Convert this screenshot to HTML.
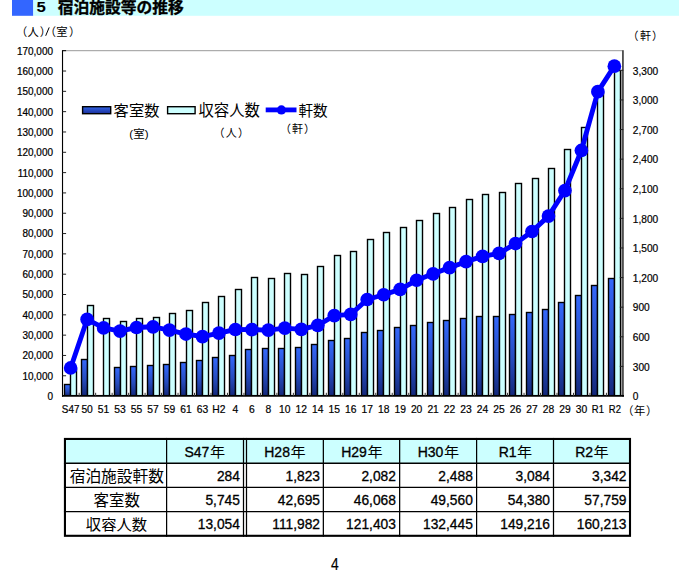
<!DOCTYPE html><html><head><meta charset="utf-8"><style>html,body{margin:0;padding:0;background:#fff}body{width:697px;height:573px;overflow:hidden;font-family:"Liberation Sans",sans-serif}</style></head><body><svg width="697" height="573" viewBox="0 0 697 573" font-family="Liberation Sans, sans-serif" style="display:block"><rect x="12.00" y="0.00" width="21.30" height="15.80" fill="#3366ff" /><rect x="33.30" y="0.00" width="645.70" height="15.80" fill="#ccffff" /><text transform="translate(36.48,12.01) scale(1.2,1)" font-size="14.0" font-weight="bold" fill="#000" font-family="'Liberation Sans', 'Noto Sans CJK JP', sans-serif">5</text><text x="57.78" y="12.73" font-size="15.75" font-weight="bold" fill="#000" stroke="#000" stroke-width="0.35" font-family="'Liberation Sans', 'Noto Sans CJK JP', sans-serif">宿泊施設等の推移</text><defs><linearGradient id="bg" x1="0" y1="0" x2="0" y2="1"><stop offset="0" stop-color="#3468fb"/><stop offset="0.55" stop-color="#264bbd"/><stop offset="1" stop-color="#14287a"/></linearGradient><linearGradient id="lg" x1="0" y1="0" x2="0" y2="1"><stop offset="0" stop-color="#3366e8"/><stop offset="1" stop-color="#1a2f9a"/></linearGradient></defs><line x1="62.40" y1="50.70" x2="622.60" y2="50.70" stroke="#999" stroke-width="1" /><rect x="63.80" y="383.80" width="7.40" height="12.20" fill="#000" /><rect x="65.20" y="385.20" width="4.60" height="10.80" fill="url(#bg)" /><rect x="69.80" y="368.80" width="7.40" height="27.20" fill="#000" /><rect x="71.20" y="370.20" width="4.60" height="25.80" fill="#ccffff" /><rect x="80.80" y="358.80" width="7.40" height="37.20" fill="#000" /><rect x="82.20" y="360.20" width="4.60" height="35.80" fill="url(#bg)" /><rect x="86.80" y="304.80" width="7.40" height="91.20" fill="#000" /><rect x="88.20" y="306.20" width="4.60" height="89.80" fill="#ccffff" /><rect x="102.80" y="317.80" width="7.40" height="78.20" fill="#000" /><rect x="104.20" y="319.20" width="4.60" height="76.80" fill="#ccffff" /><rect x="113.80" y="366.80" width="7.40" height="29.20" fill="#000" /><rect x="115.20" y="368.20" width="4.60" height="27.80" fill="url(#bg)" /><rect x="119.80" y="320.80" width="7.40" height="75.20" fill="#000" /><rect x="121.20" y="322.20" width="4.60" height="73.80" fill="#ccffff" /><rect x="129.80" y="365.80" width="7.40" height="30.20" fill="#000" /><rect x="131.20" y="367.20" width="4.60" height="28.80" fill="url(#bg)" /><rect x="135.80" y="317.80" width="7.40" height="78.20" fill="#000" /><rect x="137.20" y="319.20" width="4.60" height="76.80" fill="#ccffff" /><rect x="146.80" y="364.80" width="7.40" height="31.20" fill="#000" /><rect x="148.20" y="366.20" width="4.60" height="29.80" fill="url(#bg)" /><rect x="152.80" y="316.80" width="7.40" height="79.20" fill="#000" /><rect x="154.20" y="318.20" width="4.60" height="77.80" fill="#ccffff" /><rect x="162.80" y="363.80" width="7.40" height="32.20" fill="#000" /><rect x="164.20" y="365.20" width="4.60" height="30.80" fill="url(#bg)" /><rect x="168.80" y="312.80" width="7.40" height="83.20" fill="#000" /><rect x="170.20" y="314.20" width="4.60" height="81.80" fill="#ccffff" /><rect x="179.80" y="361.80" width="7.40" height="34.20" fill="#000" /><rect x="181.20" y="363.20" width="4.60" height="32.80" fill="url(#bg)" /><rect x="185.80" y="309.80" width="7.40" height="86.20" fill="#000" /><rect x="187.20" y="311.20" width="4.60" height="84.80" fill="#ccffff" /><rect x="195.80" y="359.80" width="7.40" height="36.20" fill="#000" /><rect x="197.20" y="361.20" width="4.60" height="34.80" fill="url(#bg)" /><rect x="201.80" y="301.80" width="7.40" height="94.20" fill="#000" /><rect x="203.20" y="303.20" width="4.60" height="92.80" fill="#ccffff" /><rect x="211.80" y="356.80" width="7.40" height="39.20" fill="#000" /><rect x="213.20" y="358.20" width="4.60" height="37.80" fill="url(#bg)" /><rect x="217.80" y="295.80" width="7.40" height="100.20" fill="#000" /><rect x="219.20" y="297.20" width="4.60" height="98.80" fill="#ccffff" /><rect x="228.80" y="354.80" width="7.40" height="41.20" fill="#000" /><rect x="230.20" y="356.20" width="4.60" height="39.80" fill="url(#bg)" /><rect x="234.80" y="288.80" width="7.40" height="107.20" fill="#000" /><rect x="236.20" y="290.20" width="4.60" height="105.80" fill="#ccffff" /><rect x="244.80" y="348.80" width="7.40" height="47.20" fill="#000" /><rect x="246.20" y="350.20" width="4.60" height="45.80" fill="url(#bg)" /><rect x="250.80" y="276.80" width="7.40" height="119.20" fill="#000" /><rect x="252.20" y="278.20" width="4.60" height="117.80" fill="#ccffff" /><rect x="261.80" y="347.80" width="7.40" height="48.20" fill="#000" /><rect x="263.20" y="349.20" width="4.60" height="46.80" fill="url(#bg)" /><rect x="267.80" y="277.80" width="7.40" height="118.20" fill="#000" /><rect x="269.20" y="279.20" width="4.60" height="116.80" fill="#ccffff" /><rect x="277.80" y="347.80" width="7.40" height="48.20" fill="#000" /><rect x="279.20" y="349.20" width="4.60" height="46.80" fill="url(#bg)" /><rect x="283.80" y="272.80" width="7.40" height="123.20" fill="#000" /><rect x="285.20" y="274.20" width="4.60" height="121.80" fill="#ccffff" /><rect x="294.80" y="346.80" width="7.40" height="49.20" fill="#000" /><rect x="296.20" y="348.20" width="4.60" height="47.80" fill="url(#bg)" /><rect x="300.80" y="273.80" width="7.40" height="122.20" fill="#000" /><rect x="302.20" y="275.20" width="4.60" height="120.80" fill="#ccffff" /><rect x="310.80" y="343.80" width="7.40" height="52.20" fill="#000" /><rect x="312.20" y="345.20" width="4.60" height="50.80" fill="url(#bg)" /><rect x="316.80" y="265.80" width="7.40" height="130.20" fill="#000" /><rect x="318.20" y="267.20" width="4.60" height="128.80" fill="#ccffff" /><rect x="327.80" y="339.80" width="7.40" height="56.20" fill="#000" /><rect x="329.20" y="341.20" width="4.60" height="54.80" fill="url(#bg)" /><rect x="333.80" y="254.80" width="7.40" height="141.20" fill="#000" /><rect x="335.20" y="256.20" width="4.60" height="139.80" fill="#ccffff" /><rect x="343.80" y="337.80" width="7.40" height="58.20" fill="#000" /><rect x="345.20" y="339.20" width="4.60" height="56.80" fill="url(#bg)" /><rect x="349.80" y="250.80" width="7.40" height="145.20" fill="#000" /><rect x="351.20" y="252.20" width="4.60" height="143.80" fill="#ccffff" /><rect x="360.80" y="331.80" width="7.40" height="64.20" fill="#000" /><rect x="362.20" y="333.20" width="4.60" height="62.80" fill="url(#bg)" /><rect x="366.80" y="238.80" width="7.40" height="157.20" fill="#000" /><rect x="368.20" y="240.20" width="4.60" height="155.80" fill="#ccffff" /><rect x="376.80" y="329.80" width="7.40" height="66.20" fill="#000" /><rect x="378.20" y="331.20" width="4.60" height="64.80" fill="url(#bg)" /><rect x="382.80" y="231.80" width="7.40" height="164.20" fill="#000" /><rect x="384.20" y="233.20" width="4.60" height="162.80" fill="#ccffff" /><rect x="393.80" y="326.80" width="7.40" height="69.20" fill="#000" /><rect x="395.20" y="328.20" width="4.60" height="67.80" fill="url(#bg)" /><rect x="399.80" y="226.80" width="7.40" height="169.20" fill="#000" /><rect x="401.20" y="228.20" width="4.60" height="167.80" fill="#ccffff" /><rect x="409.80" y="324.80" width="7.40" height="71.20" fill="#000" /><rect x="411.20" y="326.20" width="4.60" height="69.80" fill="url(#bg)" /><rect x="415.80" y="219.80" width="7.40" height="176.20" fill="#000" /><rect x="417.20" y="221.20" width="4.60" height="174.80" fill="#ccffff" /><rect x="426.80" y="321.80" width="7.40" height="74.20" fill="#000" /><rect x="428.20" y="323.20" width="4.60" height="72.80" fill="url(#bg)" /><rect x="432.80" y="212.80" width="7.40" height="183.20" fill="#000" /><rect x="434.20" y="214.20" width="4.60" height="181.80" fill="#ccffff" /><rect x="442.80" y="319.80" width="7.40" height="76.20" fill="#000" /><rect x="444.20" y="321.20" width="4.60" height="74.80" fill="url(#bg)" /><rect x="448.80" y="206.80" width="7.40" height="189.20" fill="#000" /><rect x="450.20" y="208.20" width="4.60" height="187.80" fill="#ccffff" /><rect x="459.80" y="317.80" width="7.40" height="78.20" fill="#000" /><rect x="461.20" y="319.20" width="4.60" height="76.80" fill="url(#bg)" /><rect x="465.80" y="198.80" width="7.40" height="197.20" fill="#000" /><rect x="467.20" y="200.20" width="4.60" height="195.80" fill="#ccffff" /><rect x="475.80" y="315.80" width="7.40" height="80.20" fill="#000" /><rect x="477.20" y="317.20" width="4.60" height="78.80" fill="url(#bg)" /><rect x="481.80" y="193.80" width="7.40" height="202.20" fill="#000" /><rect x="483.20" y="195.20" width="4.60" height="200.80" fill="#ccffff" /><rect x="492.80" y="315.80" width="7.40" height="80.20" fill="#000" /><rect x="494.20" y="317.20" width="4.60" height="78.80" fill="url(#bg)" /><rect x="498.80" y="191.80" width="7.40" height="204.20" fill="#000" /><rect x="500.20" y="193.20" width="4.60" height="202.80" fill="#ccffff" /><rect x="508.80" y="313.80" width="7.40" height="82.20" fill="#000" /><rect x="510.20" y="315.20" width="4.60" height="80.80" fill="url(#bg)" /><rect x="514.80" y="182.80" width="7.40" height="213.20" fill="#000" /><rect x="516.20" y="184.20" width="4.60" height="211.80" fill="#ccffff" /><rect x="525.80" y="311.80" width="7.40" height="84.20" fill="#000" /><rect x="527.20" y="313.20" width="4.60" height="82.80" fill="url(#bg)" /><rect x="531.80" y="177.80" width="7.40" height="218.20" fill="#000" /><rect x="533.20" y="179.20" width="4.60" height="216.80" fill="#ccffff" /><rect x="541.80" y="308.80" width="7.40" height="87.20" fill="#000" /><rect x="543.20" y="310.20" width="4.60" height="85.80" fill="url(#bg)" /><rect x="547.80" y="167.80" width="7.40" height="228.20" fill="#000" /><rect x="549.20" y="169.20" width="4.60" height="226.80" fill="#ccffff" /><rect x="557.80" y="301.80" width="7.40" height="94.20" fill="#000" /><rect x="559.20" y="303.20" width="4.60" height="92.80" fill="url(#bg)" /><rect x="563.80" y="148.80" width="7.40" height="247.20" fill="#000" /><rect x="565.20" y="150.20" width="4.60" height="245.80" fill="#ccffff" /><rect x="574.80" y="294.80" width="7.40" height="101.20" fill="#000" /><rect x="576.20" y="296.20" width="4.60" height="99.80" fill="url(#bg)" /><rect x="580.80" y="126.80" width="7.40" height="269.20" fill="#000" /><rect x="582.20" y="128.20" width="4.60" height="267.80" fill="#ccffff" /><rect x="590.80" y="284.80" width="7.40" height="111.20" fill="#000" /><rect x="592.20" y="286.20" width="4.60" height="109.80" fill="url(#bg)" /><rect x="596.80" y="91.80" width="7.40" height="304.20" fill="#000" /><rect x="598.20" y="93.20" width="4.60" height="302.80" fill="#ccffff" /><rect x="607.80" y="277.80" width="7.40" height="118.20" fill="#000" /><rect x="609.20" y="279.20" width="4.60" height="116.80" fill="url(#bg)" /><rect x="613.80" y="69.80" width="7.40" height="326.20" fill="#000" /><rect x="615.20" y="71.20" width="4.60" height="324.80" fill="#ccffff" /><line x1="62.52" y1="50.20" x2="62.52" y2="396.80" stroke="#000" stroke-width="1.12" /><rect x="621.00" y="70.48" width="1.00" height="325.52" fill="#9a9a9a" /><rect x="622.00" y="50.20" width="1.00" height="346.40" fill="#505050" /><rect x="623.00" y="50.20" width="1.00" height="346.40" fill="#6c6c6c" /><rect x="62.00" y="394.95" width="562.00" height="1.80" fill="#000" /><text transform="translate(53.00,400.00) scale(0.97,1)" font-size="10.3" text-anchor="end" font-weight="normal" fill="#000" stroke="#000" stroke-width="0.22" >0</text><line x1="62.40" y1="375.78" x2="66.10" y2="375.78" stroke="#222" stroke-width="1" /><text transform="translate(53.00,379.68) scale(0.97,1)" font-size="10.3" text-anchor="end" font-weight="normal" fill="#000" stroke="#000" stroke-width="0.22" >10,000</text><line x1="62.40" y1="355.46" x2="66.10" y2="355.46" stroke="#222" stroke-width="1" /><text transform="translate(53.00,359.36) scale(0.97,1)" font-size="10.3" text-anchor="end" font-weight="normal" fill="#000" stroke="#000" stroke-width="0.22" >20,000</text><line x1="62.40" y1="335.15" x2="66.10" y2="335.15" stroke="#222" stroke-width="1" /><text transform="translate(53.00,339.05) scale(0.97,1)" font-size="10.3" text-anchor="end" font-weight="normal" fill="#000" stroke="#000" stroke-width="0.22" >30,000</text><line x1="62.40" y1="314.83" x2="66.10" y2="314.83" stroke="#222" stroke-width="1" /><text transform="translate(53.00,318.73) scale(0.97,1)" font-size="10.3" text-anchor="end" font-weight="normal" fill="#000" stroke="#000" stroke-width="0.22" >40,000</text><line x1="62.40" y1="294.51" x2="66.10" y2="294.51" stroke="#222" stroke-width="1" /><text transform="translate(53.00,298.41) scale(0.97,1)" font-size="10.3" text-anchor="end" font-weight="normal" fill="#000" stroke="#000" stroke-width="0.22" >50,000</text><line x1="62.40" y1="274.19" x2="66.10" y2="274.19" stroke="#222" stroke-width="1" /><text transform="translate(53.00,278.09) scale(0.97,1)" font-size="10.3" text-anchor="end" font-weight="normal" fill="#000" stroke="#000" stroke-width="0.22" >60,000</text><line x1="62.40" y1="253.88" x2="66.10" y2="253.88" stroke="#222" stroke-width="1" /><text transform="translate(53.00,257.78) scale(0.97,1)" font-size="10.3" text-anchor="end" font-weight="normal" fill="#000" stroke="#000" stroke-width="0.22" >70,000</text><line x1="62.40" y1="233.56" x2="66.10" y2="233.56" stroke="#222" stroke-width="1" /><text transform="translate(53.00,237.46) scale(0.97,1)" font-size="10.3" text-anchor="end" font-weight="normal" fill="#000" stroke="#000" stroke-width="0.22" >80,000</text><line x1="62.40" y1="213.24" x2="66.10" y2="213.24" stroke="#222" stroke-width="1" /><text transform="translate(53.00,217.14) scale(0.97,1)" font-size="10.3" text-anchor="end" font-weight="normal" fill="#000" stroke="#000" stroke-width="0.22" >90,000</text><line x1="62.40" y1="192.92" x2="66.10" y2="192.92" stroke="#222" stroke-width="1" /><text transform="translate(53.00,196.82) scale(0.97,1)" font-size="10.3" text-anchor="end" font-weight="normal" fill="#000" stroke="#000" stroke-width="0.22" >100,000</text><line x1="62.40" y1="172.61" x2="66.10" y2="172.61" stroke="#222" stroke-width="1" /><text transform="translate(53.00,176.51) scale(0.97,1)" font-size="10.3" text-anchor="end" font-weight="normal" fill="#000" stroke="#000" stroke-width="0.22" >110,000</text><line x1="62.40" y1="152.29" x2="66.10" y2="152.29" stroke="#222" stroke-width="1" /><text transform="translate(53.00,156.19) scale(0.97,1)" font-size="10.3" text-anchor="end" font-weight="normal" fill="#000" stroke="#000" stroke-width="0.22" >120,000</text><line x1="62.40" y1="131.97" x2="66.10" y2="131.97" stroke="#222" stroke-width="1" /><text transform="translate(53.00,135.87) scale(0.97,1)" font-size="10.3" text-anchor="end" font-weight="normal" fill="#000" stroke="#000" stroke-width="0.22" >130,000</text><line x1="62.40" y1="111.65" x2="66.10" y2="111.65" stroke="#222" stroke-width="1" /><text transform="translate(53.00,115.55) scale(0.97,1)" font-size="10.3" text-anchor="end" font-weight="normal" fill="#000" stroke="#000" stroke-width="0.22" >140,000</text><line x1="62.40" y1="91.34" x2="66.10" y2="91.34" stroke="#222" stroke-width="1" /><text transform="translate(53.00,95.24) scale(0.97,1)" font-size="10.3" text-anchor="end" font-weight="normal" fill="#000" stroke="#000" stroke-width="0.22" >150,000</text><line x1="62.40" y1="71.02" x2="66.10" y2="71.02" stroke="#222" stroke-width="1" /><text transform="translate(53.00,74.92) scale(0.97,1)" font-size="10.3" text-anchor="end" font-weight="normal" fill="#000" stroke="#000" stroke-width="0.22" >160,000</text><line x1="62.40" y1="50.70" x2="66.10" y2="50.70" stroke="#000" stroke-width="1" /><text transform="translate(53.00,54.60) scale(0.97,1)" font-size="10.3" text-anchor="end" font-weight="normal" fill="#000" stroke="#000" stroke-width="0.22" >170,000</text><text transform="translate(632.80,400.30) scale(0.985,1)" font-size="10.3" text-anchor="start" font-weight="normal" fill="#000" stroke="#000" stroke-width="0.2" >0</text><text transform="translate(632.80,370.69) scale(0.985,1)" font-size="10.3" text-anchor="start" font-weight="normal" fill="#000" stroke="#000" stroke-width="0.2" >300</text><line x1="619.80" y1="366.39" x2="623.30" y2="366.39" stroke="#222" stroke-width="1" /><text transform="translate(632.80,341.09) scale(0.985,1)" font-size="10.3" text-anchor="start" font-weight="normal" fill="#000" stroke="#000" stroke-width="0.2" >600</text><line x1="619.80" y1="336.79" x2="623.30" y2="336.79" stroke="#222" stroke-width="1" /><text transform="translate(632.80,311.48) scale(0.985,1)" font-size="10.3" text-anchor="start" font-weight="normal" fill="#000" stroke="#000" stroke-width="0.2" >900</text><line x1="619.80" y1="307.18" x2="623.30" y2="307.18" stroke="#222" stroke-width="1" /><text transform="translate(632.80,281.88) scale(0.985,1)" font-size="10.3" text-anchor="start" font-weight="normal" fill="#000" stroke="#000" stroke-width="0.2" >1,200</text><line x1="619.80" y1="277.58" x2="623.30" y2="277.58" stroke="#222" stroke-width="1" /><text transform="translate(632.80,252.27) scale(0.985,1)" font-size="10.3" text-anchor="start" font-weight="normal" fill="#000" stroke="#000" stroke-width="0.2" >1,500</text><line x1="619.80" y1="247.97" x2="623.30" y2="247.97" stroke="#222" stroke-width="1" /><text transform="translate(632.80,222.67) scale(0.985,1)" font-size="10.3" text-anchor="start" font-weight="normal" fill="#000" stroke="#000" stroke-width="0.2" >1,800</text><line x1="619.80" y1="218.37" x2="623.30" y2="218.37" stroke="#222" stroke-width="1" /><text transform="translate(632.80,193.06) scale(0.985,1)" font-size="10.3" text-anchor="start" font-weight="normal" fill="#000" stroke="#000" stroke-width="0.2" >2,100</text><line x1="619.80" y1="188.76" x2="623.30" y2="188.76" stroke="#222" stroke-width="1" /><text transform="translate(632.80,163.45) scale(0.985,1)" font-size="10.3" text-anchor="start" font-weight="normal" fill="#000" stroke="#000" stroke-width="0.2" >2,400</text><line x1="619.80" y1="159.15" x2="623.30" y2="159.15" stroke="#222" stroke-width="1" /><text transform="translate(632.80,133.85) scale(0.985,1)" font-size="10.3" text-anchor="start" font-weight="normal" fill="#000" stroke="#000" stroke-width="0.2" >2,700</text><line x1="619.80" y1="129.55" x2="623.30" y2="129.55" stroke="#222" stroke-width="1" /><text transform="translate(632.80,104.24) scale(0.985,1)" font-size="10.3" text-anchor="start" font-weight="normal" fill="#000" stroke="#000" stroke-width="0.2" >3,000</text><line x1="619.80" y1="99.94" x2="623.30" y2="99.94" stroke="#222" stroke-width="1" /><text transform="translate(632.80,74.64) scale(0.985,1)" font-size="10.3" text-anchor="start" font-weight="normal" fill="#000" stroke="#000" stroke-width="0.2" >3,300</text><line x1="619.80" y1="70.34" x2="623.30" y2="70.34" stroke="#222" stroke-width="1" /><line x1="79.18" y1="392.80" x2="79.18" y2="396.00" stroke="#333" stroke-width="1" /><line x1="95.65" y1="392.80" x2="95.65" y2="396.00" stroke="#333" stroke-width="1" /><line x1="112.13" y1="392.80" x2="112.13" y2="396.00" stroke="#333" stroke-width="1" /><line x1="128.61" y1="392.80" x2="128.61" y2="396.00" stroke="#333" stroke-width="1" /><line x1="145.08" y1="392.80" x2="145.08" y2="396.00" stroke="#333" stroke-width="1" /><line x1="161.56" y1="392.80" x2="161.56" y2="396.00" stroke="#333" stroke-width="1" /><line x1="178.04" y1="392.80" x2="178.04" y2="396.00" stroke="#333" stroke-width="1" /><line x1="194.51" y1="392.80" x2="194.51" y2="396.00" stroke="#333" stroke-width="1" /><line x1="210.99" y1="392.80" x2="210.99" y2="396.00" stroke="#333" stroke-width="1" /><line x1="227.46" y1="392.80" x2="227.46" y2="396.00" stroke="#333" stroke-width="1" /><line x1="243.94" y1="392.80" x2="243.94" y2="396.00" stroke="#333" stroke-width="1" /><line x1="260.42" y1="392.80" x2="260.42" y2="396.00" stroke="#333" stroke-width="1" /><line x1="276.89" y1="392.80" x2="276.89" y2="396.00" stroke="#333" stroke-width="1" /><line x1="293.37" y1="392.80" x2="293.37" y2="396.00" stroke="#333" stroke-width="1" /><line x1="309.85" y1="392.80" x2="309.85" y2="396.00" stroke="#333" stroke-width="1" /><line x1="326.32" y1="392.80" x2="326.32" y2="396.00" stroke="#333" stroke-width="1" /><line x1="342.80" y1="392.80" x2="342.80" y2="396.00" stroke="#333" stroke-width="1" /><line x1="359.28" y1="392.80" x2="359.28" y2="396.00" stroke="#333" stroke-width="1" /><line x1="375.75" y1="392.80" x2="375.75" y2="396.00" stroke="#333" stroke-width="1" /><line x1="392.23" y1="392.80" x2="392.23" y2="396.00" stroke="#333" stroke-width="1" /><line x1="408.71" y1="392.80" x2="408.71" y2="396.00" stroke="#333" stroke-width="1" /><line x1="425.18" y1="392.80" x2="425.18" y2="396.00" stroke="#333" stroke-width="1" /><line x1="441.66" y1="392.80" x2="441.66" y2="396.00" stroke="#333" stroke-width="1" /><line x1="458.14" y1="392.80" x2="458.14" y2="396.00" stroke="#333" stroke-width="1" /><line x1="474.61" y1="392.80" x2="474.61" y2="396.00" stroke="#333" stroke-width="1" /><line x1="491.09" y1="392.80" x2="491.09" y2="396.00" stroke="#333" stroke-width="1" /><line x1="507.56" y1="392.80" x2="507.56" y2="396.00" stroke="#333" stroke-width="1" /><line x1="524.04" y1="392.80" x2="524.04" y2="396.00" stroke="#333" stroke-width="1" /><line x1="540.52" y1="392.80" x2="540.52" y2="396.00" stroke="#333" stroke-width="1" /><line x1="556.99" y1="392.80" x2="556.99" y2="396.00" stroke="#333" stroke-width="1" /><line x1="573.47" y1="392.80" x2="573.47" y2="396.00" stroke="#333" stroke-width="1" /><line x1="589.95" y1="392.80" x2="589.95" y2="396.00" stroke="#333" stroke-width="1" /><line x1="606.42" y1="392.80" x2="606.42" y2="396.00" stroke="#333" stroke-width="1" /><text transform="translate(70.64,412.60) scale(0.96,1)" font-size="10.3" text-anchor="middle" font-weight="normal" fill="#000" stroke="#000" stroke-width="0.2" >S47</text><text x="87.11" y="412.60" font-size="10.3" text-anchor="middle" font-weight="normal" fill="#000" stroke="#000" stroke-width="0.2" >50</text><text x="103.59" y="412.60" font-size="10.3" text-anchor="middle" font-weight="normal" fill="#000" stroke="#000" stroke-width="0.2" >51</text><text x="120.07" y="412.60" font-size="10.3" text-anchor="middle" font-weight="normal" fill="#000" stroke="#000" stroke-width="0.2" >53</text><text x="136.54" y="412.60" font-size="10.3" text-anchor="middle" font-weight="normal" fill="#000" stroke="#000" stroke-width="0.2" >55</text><text x="153.02" y="412.60" font-size="10.3" text-anchor="middle" font-weight="normal" fill="#000" stroke="#000" stroke-width="0.2" >57</text><text x="169.50" y="412.60" font-size="10.3" text-anchor="middle" font-weight="normal" fill="#000" stroke="#000" stroke-width="0.2" >59</text><text x="185.97" y="412.60" font-size="10.3" text-anchor="middle" font-weight="normal" fill="#000" stroke="#000" stroke-width="0.2" >61</text><text x="202.45" y="412.60" font-size="10.3" text-anchor="middle" font-weight="normal" fill="#000" stroke="#000" stroke-width="0.2" >63</text><text x="218.93" y="412.60" font-size="10.3" text-anchor="middle" font-weight="normal" fill="#000" stroke="#000" stroke-width="0.2" >H2</text><text x="235.40" y="412.60" font-size="10.3" text-anchor="middle" font-weight="normal" fill="#000" stroke="#000" stroke-width="0.2" >4</text><text x="251.88" y="412.60" font-size="10.3" text-anchor="middle" font-weight="normal" fill="#000" stroke="#000" stroke-width="0.2" >6</text><text x="268.36" y="412.60" font-size="10.3" text-anchor="middle" font-weight="normal" fill="#000" stroke="#000" stroke-width="0.2" >8</text><text x="284.83" y="412.60" font-size="10.3" text-anchor="middle" font-weight="normal" fill="#000" stroke="#000" stroke-width="0.2" >10</text><text x="301.31" y="412.60" font-size="10.3" text-anchor="middle" font-weight="normal" fill="#000" stroke="#000" stroke-width="0.2" >12</text><text x="317.79" y="412.60" font-size="10.3" text-anchor="middle" font-weight="normal" fill="#000" stroke="#000" stroke-width="0.2" >14</text><text x="334.26" y="412.60" font-size="10.3" text-anchor="middle" font-weight="normal" fill="#000" stroke="#000" stroke-width="0.2" >15</text><text x="350.74" y="412.60" font-size="10.3" text-anchor="middle" font-weight="normal" fill="#000" stroke="#000" stroke-width="0.2" >16</text><text x="367.21" y="412.60" font-size="10.3" text-anchor="middle" font-weight="normal" fill="#000" stroke="#000" stroke-width="0.2" >17</text><text x="383.69" y="412.60" font-size="10.3" text-anchor="middle" font-weight="normal" fill="#000" stroke="#000" stroke-width="0.2" >18</text><text x="400.17" y="412.60" font-size="10.3" text-anchor="middle" font-weight="normal" fill="#000" stroke="#000" stroke-width="0.2" >19</text><text x="416.64" y="412.60" font-size="10.3" text-anchor="middle" font-weight="normal" fill="#000" stroke="#000" stroke-width="0.2" >20</text><text x="433.12" y="412.60" font-size="10.3" text-anchor="middle" font-weight="normal" fill="#000" stroke="#000" stroke-width="0.2" >21</text><text x="449.60" y="412.60" font-size="10.3" text-anchor="middle" font-weight="normal" fill="#000" stroke="#000" stroke-width="0.2" >22</text><text x="466.07" y="412.60" font-size="10.3" text-anchor="middle" font-weight="normal" fill="#000" stroke="#000" stroke-width="0.2" >23</text><text x="482.55" y="412.60" font-size="10.3" text-anchor="middle" font-weight="normal" fill="#000" stroke="#000" stroke-width="0.2" >24</text><text x="499.03" y="412.60" font-size="10.3" text-anchor="middle" font-weight="normal" fill="#000" stroke="#000" stroke-width="0.2" >25</text><text x="515.50" y="412.60" font-size="10.3" text-anchor="middle" font-weight="normal" fill="#000" stroke="#000" stroke-width="0.2" >26</text><text x="531.98" y="412.60" font-size="10.3" text-anchor="middle" font-weight="normal" fill="#000" stroke="#000" stroke-width="0.2" >27</text><text x="548.46" y="412.60" font-size="10.3" text-anchor="middle" font-weight="normal" fill="#000" stroke="#000" stroke-width="0.2" >28</text><text x="564.93" y="412.60" font-size="10.3" text-anchor="middle" font-weight="normal" fill="#000" stroke="#000" stroke-width="0.2" >29</text><text x="581.41" y="412.60" font-size="10.3" text-anchor="middle" font-weight="normal" fill="#000" stroke="#000" stroke-width="0.2" >30</text><text transform="translate(597.89,412.60) scale(0.92,1)" font-size="10.3" text-anchor="middle" font-weight="normal" fill="#000" stroke="#000" stroke-width="0.2" >R1</text><text transform="translate(614.86,412.60) scale(0.92,1)" font-size="10.3" text-anchor="middle" font-weight="normal" fill="#000" stroke="#000" stroke-width="0.2" >R2</text><polyline points="70.64,367.97 87.11,319.42 103.59,327.91 120.07,331.16 136.54,327.51 153.02,326.82 169.50,330.18 185.97,334.03 202.45,336.59 218.93,333.04 235.40,329.49 251.88,329.58 268.36,330.18 284.83,328.10 301.31,329.39 317.79,325.34 334.26,315.57 350.74,314.39 367.21,299.49 383.69,294.75 400.17,289.42 416.64,280.24 433.12,273.83 449.60,267.61 466.07,261.69 482.55,256.46 499.03,253.40 515.50,243.53 531.98,231.49 548.46,216.10 564.93,190.54 581.41,150.47 597.89,91.65 614.36,66.19" fill="none" stroke="#0000ff" stroke-width="4.9" stroke-linejoin="round"/><circle cx="70.64" cy="367.97" r="6.85" fill="#0000ff"/><circle cx="87.11" cy="319.42" r="6.85" fill="#0000ff"/><circle cx="103.59" cy="327.91" r="6.85" fill="#0000ff"/><circle cx="120.07" cy="331.16" r="6.85" fill="#0000ff"/><circle cx="136.54" cy="327.51" r="6.85" fill="#0000ff"/><circle cx="153.02" cy="326.82" r="6.85" fill="#0000ff"/><circle cx="169.50" cy="330.18" r="6.85" fill="#0000ff"/><circle cx="185.97" cy="334.03" r="6.85" fill="#0000ff"/><circle cx="202.45" cy="336.59" r="6.85" fill="#0000ff"/><circle cx="218.93" cy="333.04" r="6.85" fill="#0000ff"/><circle cx="235.40" cy="329.49" r="6.85" fill="#0000ff"/><circle cx="251.88" cy="329.58" r="6.85" fill="#0000ff"/><circle cx="268.36" cy="330.18" r="6.85" fill="#0000ff"/><circle cx="284.83" cy="328.10" r="6.85" fill="#0000ff"/><circle cx="301.31" cy="329.39" r="6.85" fill="#0000ff"/><circle cx="317.79" cy="325.34" r="6.85" fill="#0000ff"/><circle cx="334.26" cy="315.57" r="6.85" fill="#0000ff"/><circle cx="350.74" cy="314.39" r="6.85" fill="#0000ff"/><circle cx="367.21" cy="299.49" r="6.85" fill="#0000ff"/><circle cx="383.69" cy="294.75" r="6.85" fill="#0000ff"/><circle cx="400.17" cy="289.42" r="6.85" fill="#0000ff"/><circle cx="416.64" cy="280.24" r="6.85" fill="#0000ff"/><circle cx="433.12" cy="273.83" r="6.85" fill="#0000ff"/><circle cx="449.60" cy="267.61" r="6.85" fill="#0000ff"/><circle cx="466.07" cy="261.69" r="6.85" fill="#0000ff"/><circle cx="482.55" cy="256.46" r="6.85" fill="#0000ff"/><circle cx="499.03" cy="253.40" r="6.85" fill="#0000ff"/><circle cx="515.50" cy="243.53" r="6.85" fill="#0000ff"/><circle cx="531.98" cy="231.49" r="6.85" fill="#0000ff"/><circle cx="548.46" cy="216.10" r="6.85" fill="#0000ff"/><circle cx="564.93" cy="190.54" r="6.85" fill="#0000ff"/><circle cx="581.41" cy="150.47" r="6.85" fill="#0000ff"/><circle cx="597.89" cy="91.65" r="6.85" fill="#0000ff"/><circle cx="614.36" cy="66.19" r="6.85" fill="#0000ff"/><text x="16.10 27.59 39.79" y="36.10" font-size="11.3" fill="#000" font-family="'Liberation Sans', 'Noto Sans CJK JP', sans-serif">（人）</text><text x="44.80 56.32 68.99" y="36.10" font-size="11.3" fill="#000" font-family="'Liberation Sans', 'Noto Sans CJK JP', sans-serif">（室）</text><line x1="45.70" y1="35.80" x2="49.20" y2="27.40" stroke="#000" stroke-width="1.0" /><text x="627.41 639.92 652.11" y="39.90" font-size="11" fill="#000" font-family="'Liberation Sans', 'Noto Sans CJK JP', sans-serif">（軒）</text><text x="622.20 634.00 645.89" y="415.00" font-size="11.3" fill="#000" font-family="'Liberation Sans', 'Noto Sans CJK JP', sans-serif">（年）</text><rect x="82.60" y="106.70" width="28.10" height="7.00" fill="url(#lg)" stroke="#000" stroke-width="1.4" /><text x="113.61" y="116.30" font-size="15.29" fill="#000" font-family="'Liberation Sans', 'Noto Sans CJK JP', sans-serif">客室数</text><rect x="167.60" y="106.70" width="27.50" height="7.00" fill="#ccffff" stroke="#000" stroke-width="1.4" /><text x="198.44" y="116.43" font-size="15.39" fill="#000" font-family="'Liberation Sans', 'Noto Sans CJK JP', sans-serif">収容人数</text><line x1="265.70" y1="109.90" x2="296.50" y2="109.90" stroke="#0000ff" stroke-width="4.8" /><circle cx="281.4" cy="109.9" r="4.6" fill="#0000ff"/><text x="298.46" y="116.15" font-size="14.65" fill="#000" font-family="'Liberation Sans', 'Noto Sans CJK JP', sans-serif">軒数</text><text x="129.18 133.22 144.67" y="137.50" font-size="11.5" fill="#000" font-family="'Liberation Sans', 'Noto Sans CJK JP', sans-serif">(室)</text><text x="213.51 225.82 237.91" y="137.20" font-size="11" fill="#000" font-family="'Liberation Sans', 'Noto Sans CJK JP', sans-serif">（人）</text><text x="280.11 292.02 304.00" y="133.40" font-size="11" fill="#000" font-family="'Liberation Sans', 'Noto Sans CJK JP', sans-serif">（軒）</text><rect x="64.95" y="438.95" width="565.05" height="24.35" fill="#ccffff" /><rect x="64.95" y="438.95" width="565.05" height="96.85" fill="none" stroke="#000" stroke-width="2.1" /><line x1="166.60" y1="437.95" x2="166.60" y2="536.80" stroke="#000" stroke-width="1.25" /><line x1="243.50" y1="437.95" x2="243.50" y2="536.80" stroke="#000" stroke-width="1.25" /><line x1="246.50" y1="437.95" x2="246.50" y2="536.80" stroke="#000" stroke-width="1.25" /><line x1="323.35" y1="437.95" x2="323.35" y2="536.80" stroke="#000" stroke-width="1.25" /><line x1="399.65" y1="437.95" x2="399.65" y2="536.80" stroke="#000" stroke-width="1.25" /><line x1="476.60" y1="437.95" x2="476.60" y2="536.80" stroke="#000" stroke-width="1.25" /><line x1="553.50" y1="437.95" x2="553.50" y2="536.80" stroke="#000" stroke-width="1.25" /><line x1="63.95" y1="463.30" x2="631.00" y2="463.30" stroke="#000" stroke-width="1.4" /><line x1="63.95" y1="487.35" x2="631.00" y2="487.35" stroke="#000" stroke-width="1.25" /><line x1="63.95" y1="511.50" x2="631.00" y2="511.50" stroke="#000" stroke-width="1.25" /><text x="184.44" y="457.10" font-size="14.0" text-anchor="start" font-weight="normal" fill="#000" stroke="#000" stroke-width="0.3" >S47</text><text transform="translate(209.89,456.77) scale(1.128,1)" font-size="13.41" fill="#000" font-family="'Liberation Sans', 'Noto Sans CJK JP', sans-serif">年</text><text transform="translate(239.90,480.70) scale(0.985,1)" font-size="14.0" text-anchor="end" font-weight="normal" fill="#000" stroke="#000" stroke-width="0.3" >284</text><text transform="translate(239.90,504.90) scale(0.985,1)" font-size="14.0" text-anchor="end" font-weight="normal" fill="#000" stroke="#000" stroke-width="0.3" >5,745</text><text transform="translate(239.90,529.10) scale(0.985,1)" font-size="14.0" text-anchor="end" font-weight="normal" fill="#000" stroke="#000" stroke-width="0.3" >13,054</text><text x="264.26" y="457.10" font-size="14.0" text-anchor="start" font-weight="normal" fill="#000" stroke="#000" stroke-width="0.3" >H28</text><text transform="translate(290.48,456.77) scale(1.128,1)" font-size="13.41" fill="#000" font-family="'Liberation Sans', 'Noto Sans CJK JP', sans-serif">年</text><text transform="translate(320.00,480.70) scale(0.985,1)" font-size="14.0" text-anchor="end" font-weight="normal" fill="#000" stroke="#000" stroke-width="0.3" >1,823</text><text transform="translate(320.00,504.90) scale(0.985,1)" font-size="14.0" text-anchor="end" font-weight="normal" fill="#000" stroke="#000" stroke-width="0.3" >42,695</text><text transform="translate(320.00,529.10) scale(0.985,1)" font-size="14.0" text-anchor="end" font-weight="normal" fill="#000" stroke="#000" stroke-width="0.3" >111,982</text><text x="341.16" y="457.10" font-size="14.0" text-anchor="start" font-weight="normal" fill="#000" stroke="#000" stroke-width="0.3" >H29</text><text transform="translate(367.38,456.77) scale(1.128,1)" font-size="13.41" fill="#000" font-family="'Liberation Sans', 'Noto Sans CJK JP', sans-serif">年</text><text transform="translate(395.90,480.70) scale(0.985,1)" font-size="14.0" text-anchor="end" font-weight="normal" fill="#000" stroke="#000" stroke-width="0.3" >2,082</text><text transform="translate(395.90,504.90) scale(0.985,1)" font-size="14.0" text-anchor="end" font-weight="normal" fill="#000" stroke="#000" stroke-width="0.3" >46,068</text><text transform="translate(395.90,529.10) scale(0.985,1)" font-size="14.0" text-anchor="end" font-weight="normal" fill="#000" stroke="#000" stroke-width="0.3" >121,403</text><text x="417.66" y="457.10" font-size="14.0" text-anchor="start" font-weight="normal" fill="#000" stroke="#000" stroke-width="0.3" >H30</text><text transform="translate(443.88,456.77) scale(1.128,1)" font-size="13.41" fill="#000" font-family="'Liberation Sans', 'Noto Sans CJK JP', sans-serif">年</text><text transform="translate(472.80,480.70) scale(0.985,1)" font-size="14.0" text-anchor="end" font-weight="normal" fill="#000" stroke="#000" stroke-width="0.3" >2,488</text><text transform="translate(472.80,504.90) scale(0.985,1)" font-size="14.0" text-anchor="end" font-weight="normal" fill="#000" stroke="#000" stroke-width="0.3" >49,560</text><text transform="translate(472.80,529.10) scale(0.985,1)" font-size="14.0" text-anchor="end" font-weight="normal" fill="#000" stroke="#000" stroke-width="0.3" >132,445</text><text x="498.65" y="457.10" font-size="14.0" text-anchor="start" font-weight="normal" fill="#000" stroke="#000" stroke-width="0.3" >R1</text><text transform="translate(517.08,456.77) scale(1.128,1)" font-size="13.41" fill="#000" font-family="'Liberation Sans', 'Noto Sans CJK JP', sans-serif">年</text><text transform="translate(550.00,480.70) scale(0.985,1)" font-size="14.0" text-anchor="end" font-weight="normal" fill="#000" stroke="#000" stroke-width="0.3" >3,084</text><text transform="translate(550.00,504.90) scale(0.985,1)" font-size="14.0" text-anchor="end" font-weight="normal" fill="#000" stroke="#000" stroke-width="0.3" >54,380</text><text transform="translate(550.00,529.10) scale(0.985,1)" font-size="14.0" text-anchor="end" font-weight="normal" fill="#000" stroke="#000" stroke-width="0.3" >149,216</text><text x="575.15" y="457.10" font-size="14.0" text-anchor="start" font-weight="normal" fill="#000" stroke="#000" stroke-width="0.3" >R2</text><text transform="translate(593.58,456.77) scale(1.128,1)" font-size="13.41" fill="#000" font-family="'Liberation Sans', 'Noto Sans CJK JP', sans-serif">年</text><text transform="translate(626.50,480.70) scale(0.985,1)" font-size="14.0" text-anchor="end" font-weight="normal" fill="#000" stroke="#000" stroke-width="0.3" >3,342</text><text transform="translate(626.50,504.90) scale(0.985,1)" font-size="14.0" text-anchor="end" font-weight="normal" fill="#000" stroke="#000" stroke-width="0.3" >57,759</text><text transform="translate(626.50,529.10) scale(0.985,1)" font-size="14.0" text-anchor="end" font-weight="normal" fill="#000" stroke="#000" stroke-width="0.3" >160,213</text><text x="69.70" y="481.51" font-size="15.72" fill="#000" font-family="'Liberation Sans', 'Noto Sans CJK JP', sans-serif">宿泊施設軒数</text><text x="93.51" y="505.61" font-size="15.46" fill="#000" font-family="'Liberation Sans', 'Noto Sans CJK JP', sans-serif">客室数</text><text x="85.84" y="529.76" font-size="15.34" fill="#000" font-family="'Liberation Sans', 'Noto Sans CJK JP', sans-serif">収容人数</text><text transform="translate(334.90,569.60) scale(0.85,1)" font-size="16.3" text-anchor="middle" font-weight="normal" fill="#000" stroke="#000" stroke-width="0.2" >4</text></svg></body></html>
